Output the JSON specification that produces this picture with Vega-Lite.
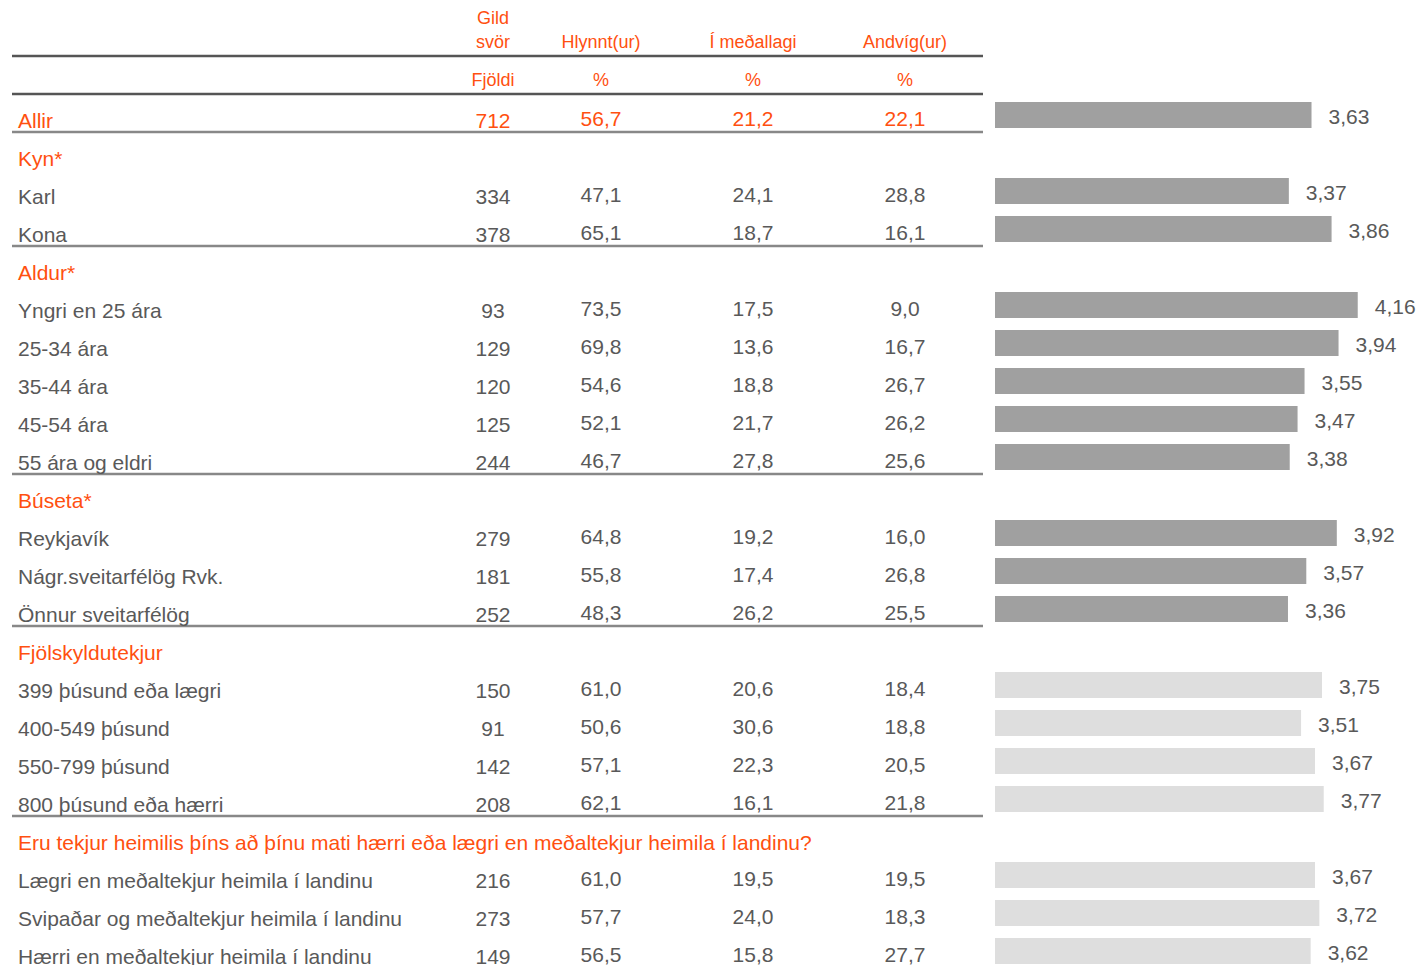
{
  "$schema": "https://vega.github.io/schema/vega-lite/v6.json",
  "padding": {"left": 10, "top": 0, "right": 0, "bottom": 0},
  "background": "white",
  "config": {
    "view": {"stroke": null},
    "locale": {"number": {"decimal": ",", "thousands": ".", "grouping": [3], "currency": ["", " kr."]}}
  },
  "datasets": {
    "rows": [
      {"row": 0, "label": "Allir", "kind": "total", "n": 712, "hl": 56.7, "med": 21.2, "and": 22.1, "mean": 3.63, "significant": true},
      {"row": 1, "label": "Kyn*", "kind": "group"},
      {"row": 2, "label": "Karl", "kind": "item", "n": 334, "hl": 47.1, "med": 24.1, "and": 28.8, "mean": 3.37, "significant": true},
      {"row": 3, "label": "Kona", "kind": "item", "n": 378, "hl": 65.1, "med": 18.7, "and": 16.1, "mean": 3.86, "significant": true},
      {"row": 4, "label": "Aldur*", "kind": "group"},
      {"row": 5, "label": "Yngri en 25 ára", "kind": "item", "n": 93, "hl": 73.5, "med": 17.5, "and": 9.0, "mean": 4.16, "significant": true},
      {"row": 6, "label": "25-34 ára", "kind": "item", "n": 129, "hl": 69.8, "med": 13.6, "and": 16.7, "mean": 3.94, "significant": true},
      {"row": 7, "label": "35-44 ára", "kind": "item", "n": 120, "hl": 54.6, "med": 18.8, "and": 26.7, "mean": 3.55, "significant": true},
      {"row": 8, "label": "45-54 ára", "kind": "item", "n": 125, "hl": 52.1, "med": 21.7, "and": 26.2, "mean": 3.47, "significant": true},
      {"row": 9, "label": "55 ára og eldri", "kind": "item", "n": 244, "hl": 46.7, "med": 27.8, "and": 25.6, "mean": 3.38, "significant": true},
      {"row": 10, "label": "Búseta*", "kind": "group"},
      {"row": 11, "label": "Reykjavík", "kind": "item", "n": 279, "hl": 64.8, "med": 19.2, "and": 16.0, "mean": 3.92, "significant": true},
      {"row": 12, "label": "Nágr.sveitarfélög Rvk.", "kind": "item", "n": 181, "hl": 55.8, "med": 17.4, "and": 26.8, "mean": 3.57, "significant": true},
      {"row": 13, "label": "Önnur sveitarfélög", "kind": "item", "n": 252, "hl": 48.3, "med": 26.2, "and": 25.5, "mean": 3.36, "significant": true},
      {"row": 14, "label": "Fjölskyldutekjur", "kind": "group"},
      {"row": 15, "label": "399 þúsund eða lægri", "kind": "item", "n": 150, "hl": 61.0, "med": 20.6, "and": 18.4, "mean": 3.75, "significant": false},
      {"row": 16, "label": "400-549 þúsund", "kind": "item", "n": 91, "hl": 50.6, "med": 30.6, "and": 18.8, "mean": 3.51, "significant": false},
      {"row": 17, "label": "550-799 þúsund", "kind": "item", "n": 142, "hl": 57.1, "med": 22.3, "and": 20.5, "mean": 3.67, "significant": false},
      {"row": 18, "label": "800 þúsund eða hærri", "kind": "item", "n": 208, "hl": 62.1, "med": 16.1, "and": 21.8, "mean": 3.77, "significant": false},
      {"row": 19, "label": "Eru tekjur heimilis þíns að þínu mati hærri eða lægri en meðaltekjur heimila í landinu?", "kind": "group"},
      {"row": 20, "label": "Lægri en meðaltekjur heimila í landinu", "kind": "item", "n": 216, "hl": 61.0, "med": 19.5, "and": 19.5, "mean": 3.67, "significant": false},
      {"row": 21, "label": "Svipaðar og meðaltekjur heimila í landinu", "kind": "item", "n": 273, "hl": 57.7, "med": 24.0, "and": 18.3, "mean": 3.72, "significant": false},
      {"row": 22, "label": "Hærri en meðaltekjur heimila í landinu", "kind": "item", "n": 149, "hl": 56.5, "med": 15.8, "and": 27.7, "mean": 3.62, "significant": false}
    ],
    "head": [
      {"col": "n", "row": -2, "text": "Gild\nsvör"},
      {"col": "hl", "row": -2, "text": "Hlynnt(ur)"},
      {"col": "med", "row": -2, "text": "Í meðallagi"},
      {"col": "and", "row": -2, "text": "Andvíg(ur)"},
      {"col": "n", "row": -1, "text": "Fjöldi"},
      {"col": "hl", "row": -1, "text": "%"},
      {"col": "med", "row": -1, "text": "%"},
      {"col": "and", "row": -1, "text": "%"}
    ],
    "lines": [
      {"after": -2}, {"after": -1}, {"after": 0}, {"after": 3}, {"after": 9}, {"after": 13}, {"after": 18}
    ],
    "none": []
  },
  "resolve": {"scale": {"color": "shared", "fill": "independent"}},
  "spacing": 0,
  "bounds": "flush",
  "hconcat": [
    {
      "width": 451, "height": 965,
      "layer": [
        {"data": {"name": "lines"}, "transform": [{"filter": "datum.after < 0"}], "mark": {"type": "rule", "yOffset": 17, "strokeWidth": 2.3, "color": "#555555"}, "encoding": {"y": {"field": "after", "type": "quantitative", "scale": {"domain": [-3.026, 22.368], "reverse": true, "nice": false, "zero": false}, "axis": null}}},
        {"data": {"name": "lines"}, "transform": [{"filter": "datum.after >= 0"}], "mark": {"type": "rule", "yOffset": 17, "strokeWidth": 2.5, "color": "#888888"}, "encoding": {"y": {"field": "after", "type": "quantitative", "scale": {"domain": [-3.026, 22.368], "reverse": true, "nice": false, "zero": false}, "axis": null}}},
        {"data": {"name": "rows"}, "mark": {"type": "text", "align": "left", "dx": 6, "dy": 13, "baseline": "alphabetic", "fontSize": 21, "font": "Liberation Sans"},
         "encoding": {"x": {"value": 0}, "y": {"field": "row", "type": "quantitative", "scale": {"domain": [-3.026, 22.368], "reverse": true, "nice": false, "zero": false}, "axis": null}, "text": {"field": "label"}, "color": {"field": "kind", "type": "nominal", "scale": {"domain": ["total", "group", "item"], "range": ["#FF5010", "#FF5010", "#595959"]}, "legend": null}}}
      ]
    },
    {
      "width": 60, "height": 965,
      "layer": [
        {"data": {"name": "lines"}, "transform": [{"filter": "datum.after < 0"}], "mark": {"type": "rule", "yOffset": 17, "strokeWidth": 2.3, "color": "#555555"}, "encoding": {"y": {"field": "after", "type": "quantitative", "scale": {"domain": [-3.026, 22.368], "reverse": true, "nice": false, "zero": false}, "axis": null}}},
        {"data": {"name": "lines"}, "transform": [{"filter": "datum.after >= 0"}], "mark": {"type": "rule", "yOffset": 17, "strokeWidth": 2.5, "color": "#888888"}, "encoding": {"y": {"field": "after", "type": "quantitative", "scale": {"domain": [-3.026, 22.368], "reverse": true, "nice": false, "zero": false}, "axis": null}}},
        {"data": {"name": "head"}, "transform": [{"filter": "datum.col == 'n' && datum.row == -1"}], "mark": {"type": "text", "baseline": "bottom", "dy": 13, "fontSize": 18, "font": "Liberation Sans", "color": "#FF5010"},
         "encoding": {"y": {"field": "row", "type": "quantitative", "scale": {"domain": [-3.026, 22.368], "reverse": true, "nice": false, "zero": false}, "axis": null}, "text": {"field": "text"}}},
        {"data": {"name": "head"}, "transform": [{"filter": "datum.col == 'n' && datum.row == -2"}], "mark": {"type": "text", "baseline": "bottom", "dy": -11, "fontSize": 18, "font": "Liberation Sans", "color": "#FF5010", "lineBreak": "\n", "lineHeight": 24},
         "encoding": {"y": {"field": "row", "type": "quantitative", "scale": {"domain": [-3.026, 22.368], "reverse": true, "nice": false, "zero": false}, "axis": null}, "text": {"field": "text"}}},
        {"data": {"name": "rows"}, "transform": [{"filter": "isValid(datum.n)"}], "mark": {"type": "text", "baseline": "alphabetic", "dy": 13, "fontSize": 21, "font": "Liberation Sans"},
         "encoding": {"y": {"field": "row", "type": "quantitative", "scale": {"domain": [-3.026, 22.368], "reverse": true, "nice": false, "zero": false}, "axis": null}, "text": {"field": "n", "type": "quantitative", "format": "d"}, "color": {"field": "kind", "type": "nominal", "scale": {"domain": ["total", "group", "item"], "range": ["#FF5010", "#FF5010", "#595959"]}, "legend": null}}}
      ]
    },
    {
      "width": 156, "height": 965,
      "layer": [
        {"data": {"name": "lines"}, "transform": [{"filter": "datum.after < 0"}], "mark": {"type": "rule", "yOffset": 17, "strokeWidth": 2.3, "color": "#555555"}, "encoding": {"y": {"field": "after", "type": "quantitative", "scale": {"domain": [-3.026, 22.368], "reverse": true, "nice": false, "zero": false}, "axis": null}}},
        {"data": {"name": "lines"}, "transform": [{"filter": "datum.after >= 0"}], "mark": {"type": "rule", "yOffset": 17, "strokeWidth": 2.5, "color": "#888888"}, "encoding": {"y": {"field": "after", "type": "quantitative", "scale": {"domain": [-3.026, 22.368], "reverse": true, "nice": false, "zero": false}, "axis": null}}},
        {"data": {"name": "head"}, "transform": [{"filter": "datum.col == 'hl'"}], "mark": {"type": "text", "baseline": "bottom", "dy": 13, "fontSize": 18, "font": "Liberation Sans", "color": "#FF5010"},
         "encoding": {"y": {"field": "row", "type": "quantitative", "scale": {"domain": [-3.026, 22.368], "reverse": true, "nice": false, "zero": false}, "axis": null}, "text": {"field": "text"}}},
        {"data": {"name": "rows"}, "transform": [{"filter": "isValid(datum.hl)"}], "mark": {"type": "text", "baseline": "alphabetic", "dy": 11, "fontSize": 21, "font": "Liberation Sans"},
         "encoding": {"y": {"field": "row", "type": "quantitative", "scale": {"domain": [-3.026, 22.368], "reverse": true, "nice": false, "zero": false}, "axis": null}, "text": {"field": "hl", "type": "quantitative", "format": ".1f"}, "color": {"field": "kind", "type": "nominal", "scale": {"domain": ["total", "group", "item"], "range": ["#FF5010", "#FF5010", "#595959"]}, "legend": null}}}
      ]
    },
    {
      "width": 148, "height": 965,
      "layer": [
        {"data": {"name": "lines"}, "transform": [{"filter": "datum.after < 0"}], "mark": {"type": "rule", "yOffset": 17, "strokeWidth": 2.3, "color": "#555555"}, "encoding": {"y": {"field": "after", "type": "quantitative", "scale": {"domain": [-3.026, 22.368], "reverse": true, "nice": false, "zero": false}, "axis": null}}},
        {"data": {"name": "lines"}, "transform": [{"filter": "datum.after >= 0"}], "mark": {"type": "rule", "yOffset": 17, "strokeWidth": 2.5, "color": "#888888"}, "encoding": {"y": {"field": "after", "type": "quantitative", "scale": {"domain": [-3.026, 22.368], "reverse": true, "nice": false, "zero": false}, "axis": null}}},
        {"data": {"name": "head"}, "transform": [{"filter": "datum.col == 'med'"}], "mark": {"type": "text", "baseline": "bottom", "dy": 13, "fontSize": 18, "font": "Liberation Sans", "color": "#FF5010"},
         "encoding": {"y": {"field": "row", "type": "quantitative", "scale": {"domain": [-3.026, 22.368], "reverse": true, "nice": false, "zero": false}, "axis": null}, "text": {"field": "text"}}},
        {"data": {"name": "rows"}, "transform": [{"filter": "isValid(datum.med)"}], "mark": {"type": "text", "baseline": "alphabetic", "dy": 11, "fontSize": 21, "font": "Liberation Sans"},
         "encoding": {"y": {"field": "row", "type": "quantitative", "scale": {"domain": [-3.026, 22.368], "reverse": true, "nice": false, "zero": false}, "axis": null}, "text": {"field": "med", "type": "quantitative", "format": ".1f"}, "color": {"field": "kind", "type": "nominal", "scale": {"domain": ["total", "group", "item"], "range": ["#FF5010", "#FF5010", "#595959"]}, "legend": null}}}
      ]
    },
    {
      "width": 156, "height": 965,
      "layer": [
        {"data": {"name": "lines"}, "transform": [{"filter": "datum.after < 0"}], "mark": {"type": "rule", "yOffset": 17, "strokeWidth": 2.3, "color": "#555555"}, "encoding": {"y": {"field": "after", "type": "quantitative", "scale": {"domain": [-3.026, 22.368], "reverse": true, "nice": false, "zero": false}, "axis": null}}},
        {"data": {"name": "lines"}, "transform": [{"filter": "datum.after >= 0"}], "mark": {"type": "rule", "yOffset": 17, "strokeWidth": 2.5, "color": "#888888"}, "encoding": {"y": {"field": "after", "type": "quantitative", "scale": {"domain": [-3.026, 22.368], "reverse": true, "nice": false, "zero": false}, "axis": null}}},
        {"data": {"name": "head"}, "transform": [{"filter": "datum.col == 'and'"}], "mark": {"type": "text", "baseline": "bottom", "dy": 13, "fontSize": 18, "font": "Liberation Sans", "color": "#FF5010"},
         "encoding": {"y": {"field": "row", "type": "quantitative", "scale": {"domain": [-3.026, 22.368], "reverse": true, "nice": false, "zero": false}, "axis": null}, "text": {"field": "text"}}},
        {"data": {"name": "rows"}, "transform": [{"filter": "isValid(datum.and)"}], "mark": {"type": "text", "baseline": "alphabetic", "dy": 11, "fontSize": 21, "font": "Liberation Sans"},
         "encoding": {"y": {"field": "row", "type": "quantitative", "scale": {"domain": [-3.026, 22.368], "reverse": true, "nice": false, "zero": false}, "axis": null}, "text": {"field": "and", "type": "quantitative", "format": ".1f"}, "color": {"field": "kind", "type": "nominal", "scale": {"domain": ["total", "group", "item"], "range": ["#FF5010", "#FF5010", "#595959"]}, "legend": null}}}
      ]
    },
    {
      "width": 12, "height": 965,
      "data": {"name": "none"},
      "mark": "point",
      "encoding": {}
    },
    {
      "width": 427, "height": 965,
      "data": {"name": "rows"},
      "transform": [{"filter": "isValid(datum.mean)"}],
      "encoding": {
        "y": {"field": "row", "type": "quantitative", "scale": {"domain": [-3.026, 22.368], "reverse": true, "nice": false, "zero": false, "padding": 0}, "axis": null},
        "x": {"field": "mean", "type": "quantitative", "scale": {"domain": [0, 4.897], "nice": false, "padding": 0}, "axis": null}
      },
      "layer": [
        {"mark": {"type": "bar", "orient": "horizontal", "height": 26},
         "encoding": {"fill": {"field": "significant", "type": "nominal", "scale": {"domain": [true, false], "range": ["#A0A0A0", "#DEDEDE"]}, "legend": null}}},
        {"mark": {"type": "text", "align": "left", "dx": 17, "dy": 9, "baseline": "alphabetic", "fontSize": 21, "font": "Liberation Sans", "color": "#595959"},
         "encoding": {"text": {"field": "mean", "type": "quantitative", "format": ".2f"}}}
      ]
    }
  ]
}
